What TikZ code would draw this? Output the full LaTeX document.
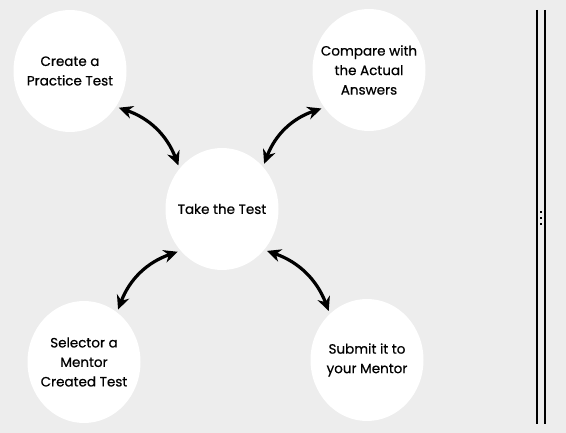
\documentclass[tikz,border=0pt]{standalone}
\usepackage{fontspec}
\setmainfont{Poppins}
\newfontfamily\bubblefont{Poppins}[FakeBold=0.6]
\usetikzlibrary{shapes.geometric,arrows.meta}
\definecolor{bg}{HTML}{EDEDED}
\begin{document}
\begin{tikzpicture}[x=1pt,y=-1pt,
    bubble/.style={ellipse,fill=white,minimum width=113pt,minimum height=122pt,
      inner sep=-10pt,outer sep=3pt,align=center,font=\bubblefont\fontsize{13.5}{19.5}\selectfont},
    link/.style={line width=3.2pt,{Stealth[length=14pt,width=13pt]}-{Stealth[length=14pt,width=13pt]}}]
    \fill[bg](0,0) rectangle (566,433);
    \node[bubble] (create) at(70,71){Create a\\Practice Test};
    \node[bubble] (compare) at(369,70){Compare with\\the Actual\\Answers};
    \node[bubble] (take) at(222,209){Take the Test};
    \node[bubble] (select) at(84,362){Selector a\\Mentor\\Created Test};
    \node[bubble] (submit) at(367,360){Submit it to\\your Mentor};
    \draw[link](create.-37) to[bend left=25] (take.135);
    \draw[link](compare.219) to[bend right=25] (take.47);
    \draw[link](take.224) to[bend right=25] (select.57);
    \draw[link](take.-43) to[bend left=25] (submit.128);
    % scroll bar at the right
    \draw[line width=1.2pt](537,10)--(537,424) (545,10)--(545,424);
    \foreach \y in {211,217,223}
      \fill (540,\y) rectangle (542,\y+2);
  \end{tikzpicture}
\end{document}
